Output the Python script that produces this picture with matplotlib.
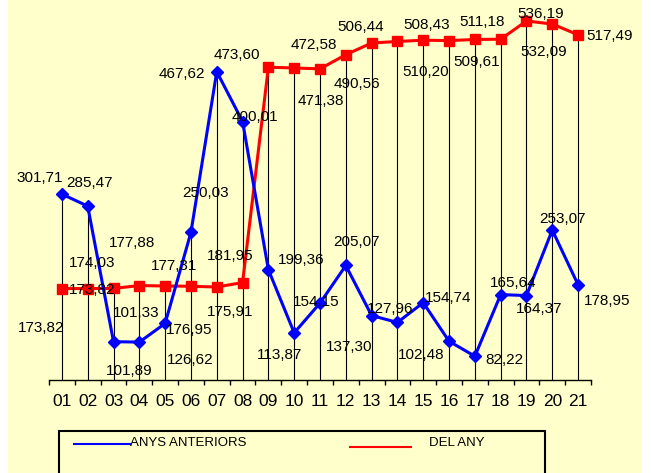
import matplotlib
matplotlib.use("Agg")
import matplotlib.pyplot as plt
from matplotlib.patches import Rectangle
from matplotlib.lines import Line2D

plt.rcParams["font.family"] = ["Liberation Sans", "DejaVu Sans"]

# ── Data ───────────────────────────────────────────────────────
categories = ["01", "02", "03", "04", "05", "06", "07", "08", "09", "10", "11",
              "12", "13", "14", "15", "16", "17", "18", "19", "20", "21"]

anys_anteriors = [301.71, 285.47, 101.89, 101.33, 126.62, 250.03, 467.62,
                  400.01, 199.36, 113.87, 154.15, 205.07, 137.30, 127.96,
                  154.74, 102.48, 82.22, 165.64, 164.37, 253.07, 178.95]

del_any = [173.82, 173.82, 174.03, 177.88, 177.31, 176.95, 175.91, 181.95,
           473.60, 472.58, 471.38, 490.56, 506.44, 508.43, 510.20, 509.61,
           511.18, 511.50, 536.19, 532.09, 517.49]

# label offsets (pixels, image-down positive); None = no label shown
blue_offsets = [(-22, -18), (2, -25), (16, 28), (-3, -31), (25, 35), (15, -41),
                (-35, 1), (12, -6), (33, -11), (-15, 21), (-4, -3), (11, -25),
                (-22, 30), (-7, -15), (25, -6), (-28, 12), (30, 2), (13, -13),
                (13, 12), (10, -13), (29, 15)]
red_offsets = [(-21, 38), (4, 0), (-21, -27), (-7, -44), (9, -21), (-2, 42),
               (13, 23), (-12, -28), (-32, -14), (20, -24), (1, 31), (11, 28),
               (-11, -17), (29, -18), (2, 30), (28, 20), (7, -19), None,
               (14, -8), (-9, 26), (31, 0)]

BLUE = "#0000FF"
RED = "#FF0000"
BG = "#FFFFCC"

W, H = 651, 473
fig = plt.figure(figsize=(W / 100, H / 100), dpi=100)
fig.patch.set_facecolor("white")
fig.patches.append(Rectangle((8 / W, 0), (642 - 8) / W, 1, transform=fig.transFigure,
                             facecolor=BG, edgecolor="none", zorder=-10))

ax = fig.add_axes([49 / W, (H - 380) / H, 542 / W, (380 - 10.8) / H])
ax.set_facecolor("none")

x = list(range(1, len(categories) + 1))

# drop lines to the highest series
tops = [max(a, b) for a, b in zip(anys_anteriors, del_any)]
ax.vlines(x, 50, tops, color="black", lw=0.8, zorder=1)

ax.plot(x, anys_anteriors, color=BLUE, lw=2.2, marker="D", ms=6, zorder=3)
ax.plot(x, del_any, color=RED, lw=2.2, marker="s", ms=6.5, zorder=2)


def fmt(v):
    return f"{v:.2f}".replace(".", ",")


for series, offs in [(anys_anteriors, blue_offsets), (del_any, red_offsets)]:
    for xi, v, off in zip(x, series, offs):
        if off is None:
            continue
        dx, dy = off
        ax.annotate(fmt(v), (xi, v), xytext=(dx, -(dy + 5.5)),
                    textcoords="offset pixels", ha="center", va="baseline",
                    fontsize=11, color="black", zorder=5)

ax.set_xlim(0.5, len(categories) + 0.5)
ax.set_ylim(50, 550)
for s in ["left", "right", "top"]:
    ax.spines[s].set_visible(False)
ax.spines["bottom"].set_linewidth(1)
ax.set_yticks([])
ax.set_xticks([i + 0.5 for i in range(0, len(categories) + 1)])
ax.set_xticklabels([])
ax.tick_params(axis="x", which="major", direction="out", length=3.6, width=1)
ax.set_xticks(x, minor=True)
ax.set_xticklabels(categories, minor=True, fontsize=12.5)
ax.tick_params(axis="x", which="minor", length=0, pad=10)

# legend box (runs off the bottom of the image)
fig.patches.append(Rectangle((58.7 / W, -0.1), (545 - 58.7) / W, 0.1 + (H - 431) / H,
                             transform=fig.transFigure, facecolor="none",
                             edgecolor="black", lw=1.5, clip_on=False))
fig.lines.append(Line2D([74 / W, 130 / W], [(H - 444) / H] * 2, color=BLUE, lw=1.5,
                        transform=fig.transFigure))
fig.text(130 / W, (H - 443) / H, "ANYS ANTERIORS", fontsize=9.5, va="center", ha="left")
fig.lines.append(Line2D([350 / W, 411 / W], [(H - 447) / H] * 2, color=RED, lw=1.5,
                        transform=fig.transFigure))
fig.text(429 / W, (H - 443) / H, "DEL ANY", fontsize=9.5, va="center", ha="left")

fig.savefig("out.png", dpi=100, facecolor=fig.get_facecolor())
